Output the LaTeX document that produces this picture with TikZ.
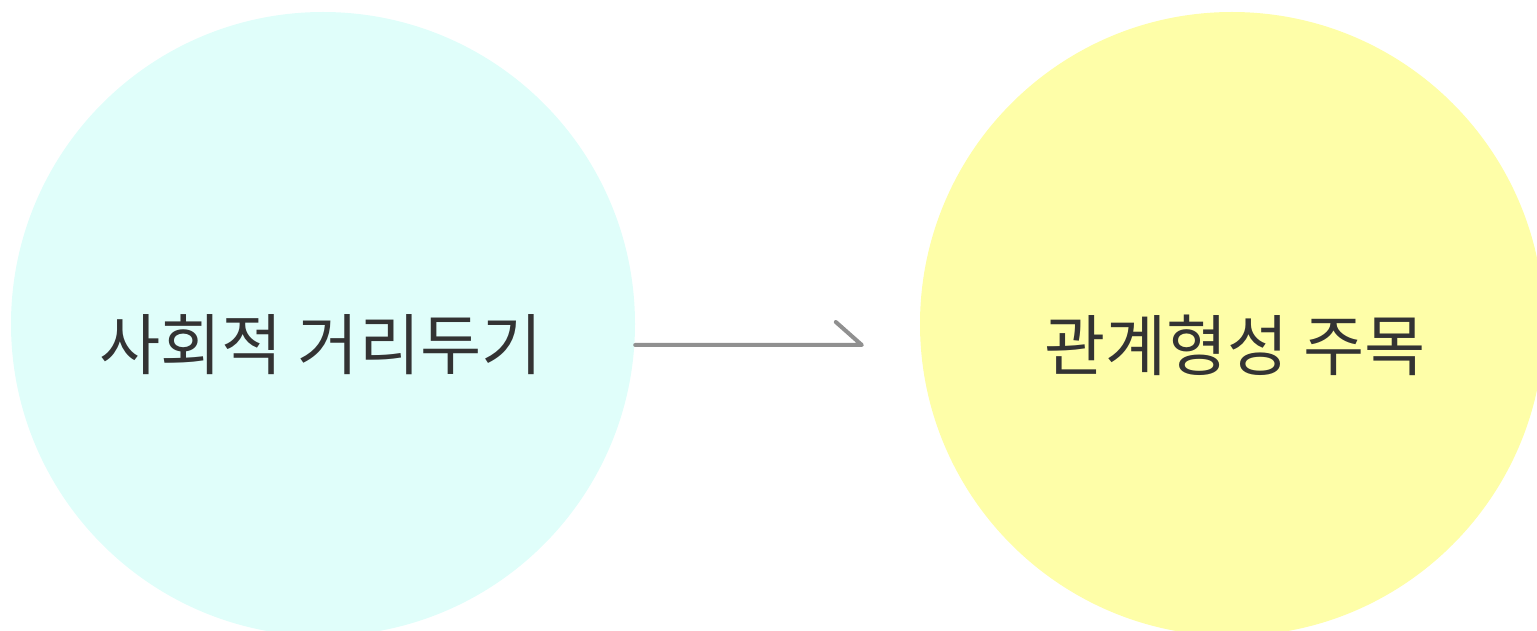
\documentclass[tikz,border=0pt]{standalone}
\usepackage{fontspec}
\setmainfont{Noto Sans CJK KR}
\usepackage{tikz}
\definecolor{mint}{HTML}{E0FEFA}
\definecolor{lemon}{HTML}{FEFEA8}
\definecolor{ink}{HTML}{333333}
\definecolor{wire}{HTML}{909090}
\tikzstyle{bubble} = [circle, minimum size=624pt, inner sep=0pt]
\tikzstyle{topic} = [text=ink, font=\fontsize{66.5}{72}\selectfont, inner sep=0pt]

\begin{document}
\begin{tikzpicture}[x=1pt,y=1pt]
	\useasboundingbox (0,0) rectangle (1537,630);
	\node[bubble, fill=mint] (distance) at (323,306) {};
	\node[bubble, fill=lemon] (relation) at (1232,306) {};
	\node[topic] (distancetext) at (321,285) {사회적 거리두기};
	\node[topic] (relationtext) at (1235,285) {관계형성 주목};
	\coordinate (tip) at ([xshift=-58pt]relation.west |- distancetext);
	\draw [color=wire, line width=4pt, line cap=round, line join=round] (distance.east |- distancetext) -- (tip) -- ++(-26,23);
\end{tikzpicture}
\end{document}
